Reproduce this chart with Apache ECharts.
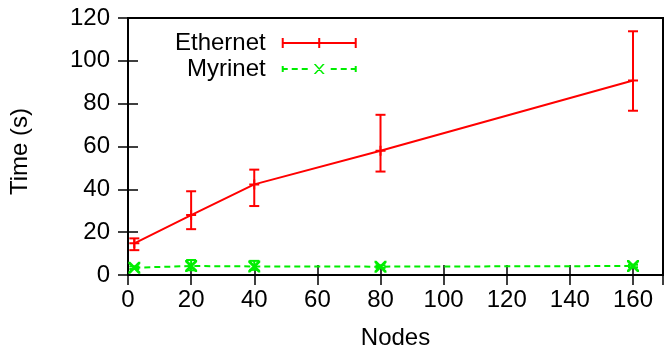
<!DOCTYPE html>
<html>
<head>
<meta charset="utf-8">
<script src="https://cdn.jsdelivr.net/npm/echarts@6/dist/echarts.min.js"></script>
<style>html,body{margin:0;padding:0;background:#fff}#c{width:665px;height:355px}</style>
</head>
<body>
<div id="c"></div>
<script>
// Data
const nodes = [2, 20, 40, 80, 160];
const ethernetTime = [14.8, 28, 42.3, 58, 90.8];
const ethernetLow  = [11.6, 21.4, 32.2, 48.3, 76.7];
const ethernetHigh = [17.1, 39.1, 49.2, 74.8, 113.8];
const myrinetTime = [3.4, 4.2, 4.0, 3.9, 4.2];
const myrinetLow  = [2.8, 2.2, 2.4, 3.3, 3.6];
const myrinetHigh = [4.0, 7.0, 6.6, 4.5, 4.8];
const xTicks = [0, 20, 40, 60, 80, 100, 120, 140, 160];
const yTicks = [0, 20, 40, 60, 80, 100, 120];

const RED = '#ff0000', GREEN = '#00ee00';
const FONT = 'Liberation Sans';

const ethIcon = 'path://M0 4h75v2h-75z M0 0h2v10h-2z M73 0h2v10h-2z M36.5 0h2v10h-2z';
const myrIcon = 'path://M0 4h6v2h-6z M10 4h6v2h-6z M20 4h6v2h-6z M49 4h6v2h-6z M59 4h6v2h-6z M69 4h6v2h-6z M0 2h2v6h-2z M73 2h2v6h-2z M32 0L34 0L43 10L41 10Z M41 0L43 0L34 10L32 10Z';
const plusSym = 'path://M0 4h10v2h-10z M4 0h2v10h-2z';
const crossSym = 'path://M0 0L2 0L12 10L12 12L10 12L0 2Z M10 0L12 0L12 2L2 12L0 12L0 10Z';

function pairs(xs, ys) { return xs.map((x, i) => [x, ys[i]]); }
function triples(xs, lo, hi) { return xs.map((x, i) => [x, lo[i], hi[i]]); }

function errRender(color) {
  return function (params, api) {
    const x = api.value(0), lo = api.value(1), hi = api.value(2);
    const pt = api.coord([x, hi]), pb = api.coord([x, lo]);
    const w = 5;
    const st = { stroke: color, lineWidth: 2 };
    return {
      type: 'group',
      children: [
        { type: 'line', shape: { x1: pt[0], y1: pt[1], x2: pb[0], y2: pb[1] }, style: st },
        { type: 'line', shape: { x1: pt[0] - w, y1: pt[1], x2: pt[0] + w, y2: pt[1] }, style: st },
        { type: 'line', shape: { x1: pb[0] - w, y1: pb[1], x2: pb[0] + w, y2: pb[1] }, style: st }
      ]
    };
  };
}

const xMin = xTicks[0], xMax = 169.5, xInt = xTicks[1] - xTicks[0];
const yMin = yTicks[0], yMax = yTicks[yTicks.length - 1], yInt = yTicks[1] - yTicks[0];

const baseX = {
  type: 'value', min: xMin, max: xMax, interval: xInt,
  axisLine: { show: true, lineStyle: { color: '#000', width: 2 } },
  axisTick: { show: true, inside: true, length: 10, lineStyle: { color: '#000', width: 1.5 } },
  splitLine: { show: false }
};
const baseY = {
  type: 'value', min: yMin, max: yMax, interval: yInt,
  axisLine: { show: true, lineStyle: { color: '#000', width: 2 } },
  axisTick: { show: true, inside: true, length: 10, lineStyle: { color: '#000', width: 1.5 } },
  splitLine: { show: false }
};

const chart = echarts.init(document.getElementById('c'));
chart.setOption({
  animation: false,
  textStyle: { fontFamily: FONT },
  grid: { left: 126, right: 2, top: 18, bottom: 76, show: true, borderColor: '#000', borderWidth: 2, backgroundColor: 'transparent' },
  legend: {
    orient: 'vertical', align: 'right', left: 175, top: 30, padding: 0,
    itemWidth: 75, itemHeight: 10, itemGap: 0, selectedMode: false,
    itemStyle: { borderWidth: 0 },
    textStyle: { fontFamily: FONT, fontSize: 24, color: '#000', lineHeight: 26, padding: [0, 11, 0, 0] },
    data: [
      { name: 'Ethernet', icon: ethIcon, itemStyle: { color: RED, borderWidth: 0 } },
      { name: 'Myrinet', icon: myrIcon, itemStyle: { color: GREEN, borderWidth: 0 } }
    ]
  },
  xAxis: [
    Object.assign({}, baseX, {
      position: 'bottom',
      name: 'Nodes', nameLocation: 'middle', nameGap: 51,
      nameTextStyle: { fontFamily: FONT, fontSize: 24, color: '#000' },
      axisLabel: { show: true, margin: 13, fontFamily: FONT, fontSize: 24, color: '#000', showMaxLabel: false }
    }),
    Object.assign({}, baseX, { position: 'top', axisLabel: { show: false } })
  ],
  yAxis: [
    Object.assign({}, baseY, {
      position: 'left',
      name: 'Time (s)', nameLocation: 'middle', nameGap: 96, nameRotate: 90,
      nameTextStyle: { fontFamily: FONT, fontSize: 24, color: '#000', padding: [0, 10, 0, 0] },
      axisLabel: { show: true, margin: 18, fontFamily: FONT, fontSize: 24, color: '#000', padding: [6, 0, 0, 0] }
    }),
    Object.assign({}, baseY, { position: 'right', axisLabel: { show: false } })
  ],
  series: [
    {
      name: 'EthernetErr', type: 'custom', xAxisIndex: 0, yAxisIndex: 0,
      renderItem: errRender(RED), encode: { x: 0, y: [1, 2] },
      data: triples(nodes, ethernetLow, ethernetHigh), z: 3
    },
    {
      name: 'MyrinetErr', type: 'custom', xAxisIndex: 0, yAxisIndex: 0,
      renderItem: errRender(GREEN), encode: { x: 0, y: [1, 2] },
      data: triples(nodes, myrinetLow, myrinetHigh), z: 3
    },
    {
      name: 'Ethernet', type: 'line', xAxisIndex: 0, yAxisIndex: 0,
      data: pairs(nodes, ethernetTime),
      symbol: plusSym, symbolSize: 10, showAllSymbol: true,
      lineStyle: { color: RED, width: 2 },
      itemStyle: { color: RED, borderWidth: 0 }, z: 4
    },
    {
      name: 'Myrinet', type: 'line', xAxisIndex: 0, yAxisIndex: 0,
      data: pairs(nodes, myrinetTime),
      symbol: crossSym, symbolSize: 12, showAllSymbol: true,
      lineStyle: { color: GREEN, width: 2, type: [6, 4] },
      itemStyle: { color: GREEN, borderWidth: 0 }, z: 4
    }
  ]
});
</script>
</body>
</html>
